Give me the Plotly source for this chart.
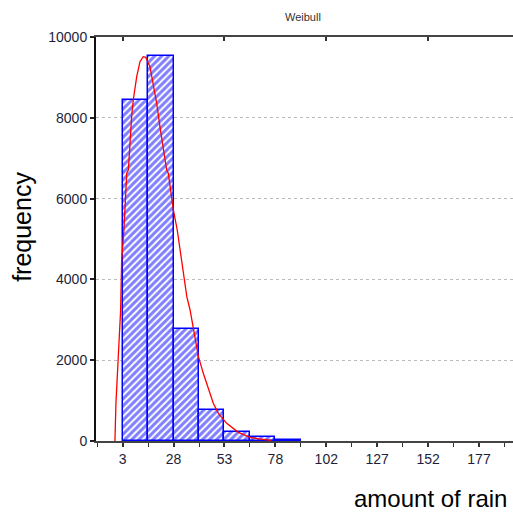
import numpy as np
import plotly.graph_objects as go

# Histogram data (bin edges and counts)
bin_edges = [3, 15.5, 28, 40.5, 53, 65.5, 78, 90.5]
counts = [8430, 9540, 2770, 770, 215, 92, 25]

# Fitted Weibull curve
curve_x = [-0.8, -0.3, 0.84, 2.0, 2.5, 3.6, 5.0, 5.8, 7.4, 8.2, 9.9, 11.5, 13.1, 14.3,
           16.4, 18.0, 19.7, 21.3, 23.0, 24.6, 25.4, 26.6, 27.9, 29.8, 31.2, 32.8,
           34.5, 36.1, 38.5, 40.2, 42.6, 45.9, 47.5, 50.0, 54.1, 59.8, 65.6, 70.0, 74.6, 76.0]
curve_y = [0, 941, 2087, 3243, 4480, 5223, 6634, 6708, 8027, 8440, 9017, 9389, 9512, 9497,
           9265, 8854, 8359, 7780, 7203, 6708, 6626, 6131, 5718, 5223, 4728, 4233,
           3572, 3243, 2582, 2087, 1675, 1181, 933, 685, 437, 215, 92, 50, 25, 15]

x_tickvals = [3, 28, 53, 78, 103, 128, 153, 178]
x_ticktext = ["3", "28", "53", "78", "102", "127", "152", "177"]
top_tickvals = [3, 53, 103, 153]
y_tickvals = [0, 2000, 4000, 6000, 8000, 10000]
y_ticktext = ["0", "2000", "4000", "6000", "8000", "10000"]

edges = np.array(bin_edges)
centers = (edges[:-1] + edges[1:]) / 2
widths = np.diff(edges)

fig = go.Figure()
fig.add_trace(go.Bar(
    x=centers, y=counts, width=widths,
    marker=dict(color="white",
                line=dict(color="#0000ff", width=1.5),
                pattern=dict(shape="/", fgcolor="#0000ff", bgcolor="white",
                             size=5, solidity=0.6)),
    showlegend=False, hoverinfo="skip"))
fig.add_trace(go.Scatter(
    x=curve_x, y=curve_y, mode="lines",
    line=dict(color="#ff0000", width=1.3),
    showlegend=False, hoverinfo="skip"))
# dummy trace for top axis
fig.add_trace(go.Scatter(x=[None], y=[None], xaxis="x2", showlegend=False))

tickfont = dict(family="Liberation Sans, Arial", size=14, color="#1e1e3a")

fig.update_layout(
    width=513, height=514,
    margin=dict(l=96, r=0, t=37, b=73),
    paper_bgcolor="white", plot_bgcolor="white",
    bargap=0,
    xaxis=dict(range=[-10.1, 194.7], tickvals=x_tickvals, ticktext=x_ticktext,
               ticks="outside", ticklen=4, tickwidth=1.5, tickcolor="#333",
               showline=True, linecolor="#444", linewidth=2,
               showgrid=False, zeroline=False, tickfont=tickfont,
               minor=dict(dtick=12.5, tick0=3, ticks="outside", ticklen=4,
                          tickwidth=1.2, tickcolor="#333", showgrid=False)),
    xaxis2=dict(overlaying="x", side="top", matches="x", range=[-10.1, 194.7],
                tickvals=top_tickvals, showticklabels=False,
                ticks="inside", ticklen=4, tickwidth=1.5, tickcolor="#333",
                showline=True, linecolor="#444", linewidth=1.5, showgrid=False,
                zeroline=False),
    yaxis=dict(range=[0, 10000], tickvals=y_tickvals, ticktext=y_ticktext,
               ticks="outside", ticklen=4, tickwidth=1.5, tickcolor="#222",
               showline=True, linecolor="#111", linewidth=2,
               showgrid=True, gridcolor="#bbbbbb", griddash="dot", gridwidth=1,
               zeroline=False, tickfont=tickfont),
    annotations=[
        dict(text="Weibull", xref="paper", yref="paper", x=0.496, y=1.0495,
             xanchor="center", yanchor="middle", showarrow=False,
             font=dict(family="Liberation Sans, Arial", size=11, color="#333")),
        dict(text="frequency", xref="paper", yref="paper", x=-0.1775, y=0.53,
             xanchor="center", yanchor="middle", textangle=-90, showarrow=False,
             font=dict(family="Liberation Sans, Arial", size=25, color="black")),
        dict(text="amount of rain", xref="paper", yref="paper", x=0.99, y=-0.143,
             xanchor="right", yanchor="middle", showarrow=False,
             font=dict(family="Liberation Sans, Arial", size=24, color="black")),
    ],
)

fig.write_html("out.html")
